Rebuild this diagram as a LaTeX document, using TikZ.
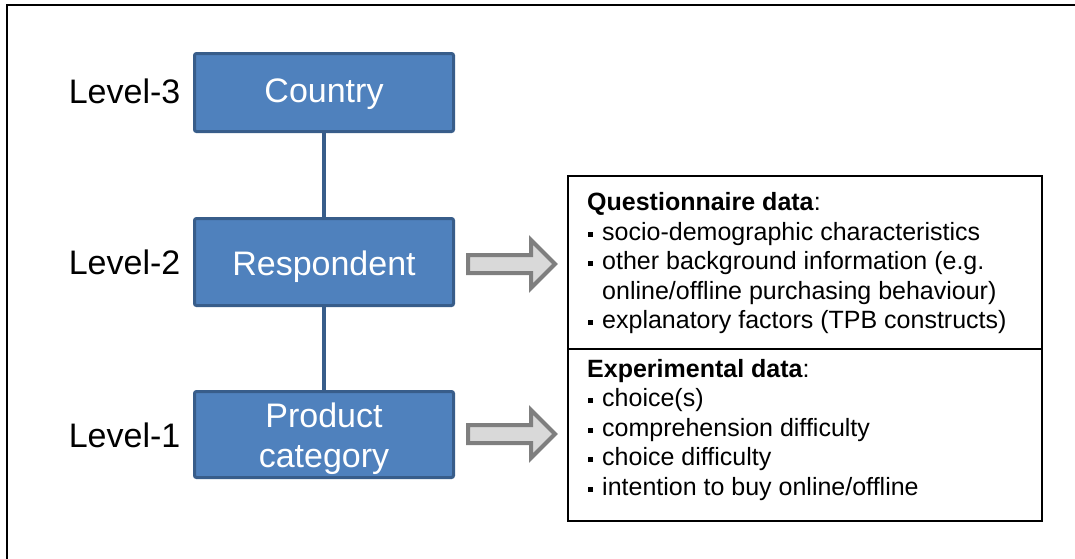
\documentclass[tikz,border=0pt]{standalone}
\usepackage{fontspec}
\setmainfont{Liberation Sans}
\definecolor{boxfill}{HTML}{4F81BD}
\definecolor{boxline}{HTML}{385D8A}
\definecolor{arrfill}{HTML}{D9D9D9}
\definecolor{arrline}{HTML}{7F7F7F}
\newcommand{\sqbul}{\makebox[15pt][l]{\hspace*{1pt}\rule[3.5pt]{5pt}{5pt}}}
\begin{document}
\begin{tikzpicture}[x=1pt,y=-1pt,
  levelbox/.style={draw=boxline, fill=boxfill, line width=3pt, rounded corners=2pt,
    minimum width=259pt, inner sep=0pt},
  boxtext/.style={anchor=base, inner sep=0pt, text=white, font=\fontsize{34}{40}\selectfont},
  leveltext/.style={anchor=base east, inner sep=0pt, font=\fontsize{34}{40}\selectfont},
  link/.style={draw=boxline, line width=4pt},
  infobox/.style={draw=black, line width=1.4pt, minimum width=474pt, inner sep=0pt},
  infotext/.style={anchor=base west, inner sep=0pt, font=\fontsize{25}{30}\selectfont},
  blockarrow/.style={draw=arrline, fill=arrfill, line width=4pt, miter limit=4}
]
\useasboundingbox (0,0) rectangle (1075,558);
% outer frame (open at right and bottom)
\draw[line width=2.5pt] (7,560) -- (7,5) -- (1077,5);

% level boxes
\node[levelbox, minimum height=78pt] (country) at (324,92.5) {};
\node[levelbox, minimum height=87pt] (resp) at (324,262) {};
\node[levelbox, minimum height=86pt] (prod) at (324,434.5) {};

\draw[link] (country.south) -- (resp.north);
\draw[link] (resp.south) -- (prod.north);

\node[boxtext] (tcountry) at (324,102) {Country};
\node[boxtext] (tresp) at (324,275) {Respondent};
\node[boxtext] (tprod1) at (324,427) {Product};
\node[boxtext] (tprod2) at (324,467) {category};

% level labels
\node[leveltext] (l3) at (180.5,103) {Level-3};
\node[leveltext] (l2) at (180.5,274) {Level-2};
\node[leveltext] (l1) at (180.5,447) {Level-1};

% info boxes
\node[infobox, minimum height=173pt] (qbox) at (805,262.5) {};
\node[infobox, minimum height=172pt] (ebox) at (805,435) {};

% block arrows
\draw[blockarrow, shift={(0,264)}] (468,-9) -- (531,-9) -- (531,-24) -- (555,0)
  -- (531,24) -- (531,9) -- (468,9) -- cycle;
\draw[blockarrow, shift={(0,434)}] (468,-9) -- (531,-9) -- (531,-24) -- (555,0)
  -- (531,24) -- (531,9) -- (468,9) -- cycle;

% questionnaire text
\node[infotext] (q0) at (587,210) {\textbf{Questionnaire data}:};
\node[infotext] (q1) at (587,240) {\sqbul socio-demographic characteristics};
\node[infotext] (q2) at (587,269.5) {\sqbul other background information (e.g.};
\node[infotext] (q3) at (587,299) {\hspace*{15pt}online/offline purchasing behaviour)};
\node[infotext] (q4) at (587,328.5) {\sqbul explanatory factors (TPB constructs)};

% experimental text
\node[infotext] (e0) at (587,377) {\textbf{Experimental data}:};
\node[infotext] (e1) at (587,406.5) {\sqbul choice(s)};
\node[infotext] (e2) at (587,436) {\sqbul comprehension difficulty};
\node[infotext] (e3) at (587,465.5) {\sqbul choice difficulty};
\node[infotext] (e4) at (587,495) {\sqbul intention to buy online/offline};
\end{tikzpicture}
\end{document}
